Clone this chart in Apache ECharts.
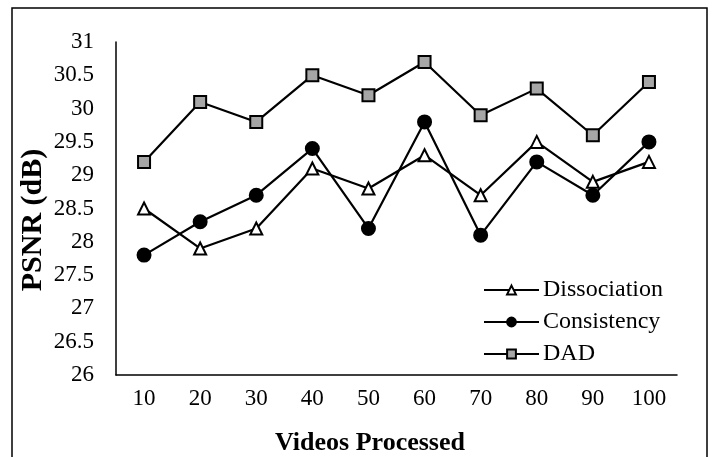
<!DOCTYPE html>
<html>
<head>
<meta charset="utf-8">
<script src="https://cdn.jsdelivr.net/npm/echarts@6/dist/echarts.min.js"></script>
<style>
html,body{margin:0;padding:0;background:#fff;}
#main{width:714px;height:457px;}
</style>
</head>
<body>
<div id="main"></div>
<script>
const categories = ['10','20','30','40','50','60','70','80','90','100'];
const dissociation = [28.5, 27.9, 28.2, 29.1, 28.8, 29.3, 28.7, 29.5, 28.9, 29.2];
const consistency = [27.8, 28.3, 28.7, 29.4, 28.2, 29.8, 28.1, 29.2, 28.7, 29.5];
const dad = [29.2, 30.1, 29.8, 30.5, 30.2, 30.7, 29.9, 30.3, 29.6, 30.4];
const yMin = 26, yMax = 31, yStep = 0.5;
const xTitle = 'Videos Processed';
const yTitle = 'PSNR (dB)';

const FONT = '"Liberation Serif", "Times New Roman", serif';
const chart = echarts.init(document.getElementById('main'), null, {renderer: 'canvas'});

function lineSeries(name, data, symbol, size, fill) {
  return {
    name: name,
    type: 'line',
    data: data,
    symbol: symbol,
    symbolSize: size,
    showAllSymbol: true,
    lineStyle: {color: '#000', width: 2.2},
    itemStyle: {color: fill, borderColor: '#000', borderWidth: 2},
    emphasis: {disabled: true},
    z: 3
  };
}

chart.setOption({
  animation: false,
  backgroundColor: '#fff',
  grid: {left: 116, top: 42, right: 37, bottom: 82, containLabel: false},
  graphic: [{
    type: 'rect',
    shape: {x: 12, y: 8, width: 695, height: 470},
    style: {fill: 'none', stroke: '#000', lineWidth: 1.5},
    silent: true, z: 0
  }, {
    type: 'text',
    x: 370, y: 443,
    style: {text: xTitle, font: 'bold 26px ' + FONT, fill: '#000', align: 'center', verticalAlign: 'middle'},
    silent: true
  }, {
    type: 'text',
    x: 33, y: 220,
    rotation: Math.PI / 2,
    style: {text: yTitle, font: 'bold 30px ' + FONT, fill: '#000', align: 'center', verticalAlign: 'middle'},
    silent: true
  }],
  legend: {
    orient: 'vertical',
    left: 483,
    top: 278,
    padding: 0,
    itemWidth: 55,
    itemHeight: 11,
    itemGap: 8,
    textStyle: {fontFamily: FONT, fontSize: 24, color: '#000', padding: [0,0,0,-1]},
    data: ['Dissociation', 'Consistency', 'DAD']
  },
  xAxis: {
    type: 'category',
    data: categories,
    boundaryGap: true,
    axisLine: {show: true, lineStyle: {color: '#000', width: 1.5}},
    axisTick: {show: false},
    axisLabel: {fontFamily: FONT, fontSize: 23, color: '#000', margin: 12},
    splitLine: {show: false}
  },
  yAxis: {
    type: 'value',
    min: yMin,
    max: yMax,
    interval: yStep,
    axisLine: {show: true, lineStyle: {color: '#000', width: 1.5}},
    axisTick: {show: false},
    splitLine: {show: false},
    axisLabel: {fontFamily: FONT, fontSize: 23, color: '#000', margin: 22}
  },
  series: [
    lineSeries('Dissociation', dissociation, 'triangle', 12, '#fff'),
    lineSeries('Consistency', consistency, 'circle', 13, '#000'),
    lineSeries('DAD', dad, 'rect', 12, '#a6a6a6')
  ]
});
</script>
</body>
</html>
